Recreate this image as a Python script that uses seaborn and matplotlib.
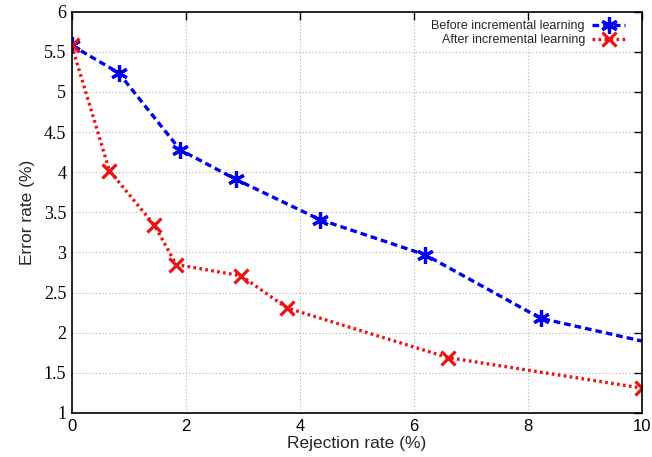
import pandas as pd
import matplotlib.pyplot as plt
import seaborn as sns
import numpy as np

# Values
before_x = [0, 0.82, 1.9, 2.88, 4.35, 6.2, 8.22, 10.6]
before_y = [5.58, 5.24, 4.28, 3.91, 3.41, 2.97, 2.18, 1.80]
after_x = [0, 0.66, 1.45, 1.83, 2.97, 3.77, 6.6, 10]
after_y = [5.58, 4.02, 3.34, 2.85, 2.71, 2.31, 1.69, 1.31]

x_ticks = [0, 2, 4, 6, 8, 10]
y_ticks = [1, 1.5, 2, 2.5, 3, 3.5, 4, 4.5, 5, 5.5, 6]
y_tick_labels = ['1', '1.5', '2', '2.5', '3', '3.5', '4', '4.5', '5', '5.5', '6']

sns.set_style('white')
plt.rcParams['font.family'] = ['Liberation Sans', 'DejaVu Sans']

fig = plt.figure(figsize=(6.52, 4.57), dpi=100)
ax = fig.add_axes([0.110, 0.0963, 0.875, 0.878])

sns.lineplot(x=before_x, y=before_y, ax=ax, sort=False, color='#0000ee',
             linewidth=2.4, dashes=False, linestyle=(0, (2, 1.2)),
             marker=(6, 2, 0), markersize=12, markeredgewidth=2.3,
             markeredgecolor='#0000ee', label='Before incremental learning')
sns.lineplot(x=after_x, y=after_y, ax=ax, sort=False, color='#ee1111',
             linewidth=2.4, dashes=False, linestyle=(0, (0.8, 1.0)),
             marker='x', markersize=10.5, markeredgewidth=2.3,
             markeredgecolor='#ee1111', label='After incremental learning')

ax.set_xlim(0, 10)
ax.set_ylim(1, 6)
ax.set_xticks(x_ticks)
ax.set_yticks(y_ticks)
ax.set_yticklabels(y_tick_labels, family='Liberation Serif', fontsize=13)
ax.tick_params(axis='x', labelsize=12)
ax.tick_params(direction='in', length=6, width=1, top=True, right=True,
               colors='black', pad=4)
ax.grid(True, color='#b0b0b0', linestyle=(0, (1, 2)), linewidth=0.8)
for s in ax.spines.values():
    s.set_color('black')
    s.set_linewidth(1.2)

ax.set_xlabel('Rejection rate (%)', fontsize=12.5, labelpad=2)
ax.set_ylabel('Error rate (%)', fontsize=12.5, labelpad=6)

leg = ax.legend(loc='upper right', markerfirst=False, frameon=False,
                fontsize=9, handlelength=2.6, handletextpad=0.6,
                labelspacing=0.15, borderaxespad=0.3,
                bbox_to_anchor=(0.985, 1.0))
for t in leg.get_texts():
    t.set_ha('right')
leg._legend_box.align = 'right'

fig.savefig('out.png', dpi=100)
